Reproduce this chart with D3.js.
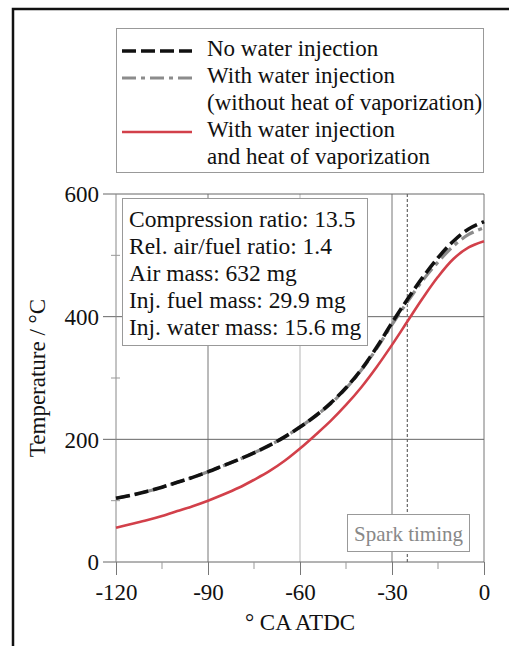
<!DOCTYPE html>
<html>
<head>
<meta charset="utf-8">
<script src="https://cdn.jsdelivr.net/npm/d3@7"></script>
<style>
  body { margin: 0; background: #fff; }
  svg { display: block; font-family: "Liberation Serif", "DejaVu Serif", serif; }
</style>
</head>
<body>
<div id="chart"></div>
<script>
// crank angle (° CA ATDC)
const angles = [-120, -115, -110, -105, -100, -95, -90, -85, -80, -75, -70, -65, -60,
                -55, -50, -45, -40, -35, -30, -25, -20, -15, -10, -5, 0];
// temperature in °C
const noWater = [104, 109, 115, 122, 130, 138, 147, 157, 167, 178, 190, 204, 220,
                 238, 259, 284, 314, 350, 390, 428, 464, 496, 523, 543, 555];
const waterNoVap = [104, 109, 115, 122, 130, 138, 147, 157, 167, 178, 190, 204, 220,
                    238, 258, 283, 313, 348, 387, 424, 459, 489, 515, 534, 545];
const waterVap = [56, 62, 68, 75, 83, 91, 100, 110, 121, 134, 148, 165, 185,
                  207, 230, 256, 285, 318, 354, 392, 430, 465, 494, 513, 523];

const xTicks = [-120, -90, -60, -30, 0];
const xMinor = [-105, -75, -45, -15];
const yTicks = [0, 200, 400, 600];
const yMinor = [100, 300, 500];
const sparkTiming = -25;

const legendLabels = [
    ["No water injection"],
    ["With water injection", "(without heat of vaporization)"],
    ["With water injection", "and heat of vaporization"]
];
const infoLines = [
    "Compression ratio: 13.5",
    "Rel. air/fuel ratio: 1.4",
    "Air mass: 632 mg",
    "Inj. fuel mass: 29.9 mg",
    "Inj. water mass: 15.6 mg"
];

let width = 509, height = 646;

let x = d3.scaleLinear().domain([-120, 0]).range([116, 484]);
let y = d3.scaleLinear().domain([0, 600]).range([562, 194]);

let svg = d3.select("#chart").append("svg")
    .attr("width", width)
    .attr("height", height);

// outer frame
svg.append("rect")
    .attr("x", 13).attr("y", 9)
    .attr("width", 530).attr("height", 670)
    .attr("fill", "none")
    .attr("stroke", "#111")
    .attr("stroke-width", 2.5);

// vertical grid
svg.append("g")
    .selectAll("line")
    .data(xTicks.slice(1))
    .join("line")
    .attr("x1", d => x(d)).attr("x2", d => x(d))
    .attr("y1", y(0)).attr("y2", y(600))
    .attr("stroke", d => d === -60 ? "#b5b5b5" : "#777")
    .attr("stroke-width", 1);

// horizontal grid (extends left as the major tick)
svg.append("g")
    .selectAll("line")
    .data(yTicks)
    .join("line")
    .attr("x1", x(-120) - 13).attr("x2", x(0))
    .attr("y1", d => y(d)).attr("y2", d => y(d))
    .attr("stroke", "#666")
    .attr("stroke-width", 1);

// left axis line
svg.append("line")
    .attr("x1", x(-120)).attr("x2", x(-120))
    .attr("y1", y(600)).attr("y2", y(0))
    .attr("stroke", "#888");

// x axis
let xAxis = svg.append("g")
    .attr("transform", `translate(0,${y(0)})`)
    .call(d3.axisBottom(x).tickValues(xTicks).tickSize(13).tickPadding(9).tickFormat(d => String(d)));
xAxis.select(".domain").remove();
xAxis.selectAll("line").attr("stroke", "#777");
xAxis.selectAll("text")
    .attr("fill", "#111")
    .style("font-size", "23px")
    .style("font-family", "Liberation Serif");

svg.append("g")
    .selectAll("line")
    .data(xMinor)
    .join("line")
    .attr("x1", d => x(d)).attr("x2", d => x(d))
    .attr("y1", y(0)).attr("y2", y(0) + 7)
    .attr("stroke", "#999");

// y axis
let yAxis = svg.append("g")
    .attr("transform", `translate(${x(-120)},0)`)
    .call(d3.axisLeft(y).tickValues(yTicks).tickSize(13).tickPadding(4));
yAxis.select(".domain").remove();
yAxis.selectAll("line").remove();
yAxis.selectAll("text")
    .attr("fill", "#111")
    .attr("dy", "0.34em")
    .style("font-size", "23px")
    .style("font-family", "Liberation Serif");

svg.append("g")
    .selectAll("line")
    .data(yMinor)
    .join("line")
    .attr("x1", x(-120) - 5).attr("x2", x(-120) + 4)
    .attr("y1", d => y(d)).attr("y2", d => y(d))
    .attr("stroke", "#999");

// spark timing marker
svg.append("line")
    .attr("x1", x(sparkTiming)).attr("x2", x(sparkTiming))
    .attr("y1", y(600)).attr("y2", y(0))
    .attr("stroke", "#666")
    .attr("stroke-width", 1.2)
    .attr("stroke-dasharray", "3,2");

// curves
let line = d3.line()
    .x((d, i) => x(angles[i]))
    .y(d => y(d))
    .curve(d3.curveCatmullRom);

let series = [
    { values: waterVap, color: "#d2404a", width: 2.6, dash: null },
    { values: waterNoVap, color: "#8c8c8c", width: 3.2, dash: "14,5,4,5" },
    { values: noWater, color: "#111", width: 3.6, dash: "14,5" }
];

svg.append("g")
    .selectAll("path")
    .data(series)
    .join("path")
    .attr("d", d => line(d.values))
    .attr("fill", "none")
    .attr("stroke", d => d.color)
    .attr("stroke-width", d => d.width)
    .attr("stroke-dasharray", d => d.dash);

// info box
svg.append("rect")
    .attr("x", 122.5).attr("y", 198.5)
    .attr("width", 245).attr("height", 147)
    .attr("fill", "#fff")
    .attr("stroke", "#999");

svg.append("g")
    .selectAll("text")
    .data(infoLines)
    .join("text")
    .attr("x", 129)
    .attr("y", (d, i) => 227 + i * 27)
    .attr("fill", "#111")
    .style("font-size", "23.5px")
    .text(d => d);

// spark timing label
svg.append("rect")
    .attr("x", 347.5).attr("y", 514.5)
    .attr("width", 122).attr("height", 37)
    .attr("fill", "#fff")
    .attr("stroke", "#999");

svg.append("text")
    .attr("x", 408.5).attr("y", 541)
    .attr("text-anchor", "middle")
    .attr("fill", "#888")
    .style("font-size", "21px")
    .text("Spark timing");

// legend
svg.append("rect")
    .attr("x", 116.5).attr("y", 28.5)
    .attr("width", 367).attr("height", 144)
    .attr("fill", "#fff")
    .attr("stroke", "#999");

let legendRows = [0, 1, 3];
let legendSeries = [series[2], series[1], series[0]];
let legend = svg.append("g");

legend.selectAll("line")
    .data(legendSeries)
    .join("line")
    .attr("x1", 122).attr("x2", 192)
    .attr("y1", (d, i) => 51 + legendRows[i] * 27)
    .attr("y2", (d, i) => 51 + legendRows[i] * 27)
    .attr("stroke", d => d.color)
    .attr("stroke-width", d => d.width)
    .attr("stroke-dasharray", d => d.dash);

legend.selectAll("text")
    .data(legendLabels.flatMap((lbl, i) => lbl.map((t, j) => ({ t, row: legendRows[i] + j }))))
    .join("text")
    .attr("x", 207)
    .attr("y", d => 56 + d.row * 27)
    .attr("fill", "#111")
    .style("font-size", "23px")
    .text(d => d.t);

// axis titles
svg.append("text")
    .attr("x", x(-60)).attr("y", 630)
    .attr("text-anchor", "middle")
    .attr("fill", "#111")
    .style("font-size", "23px")
    .text("° CA ATDC");

svg.append("text")
    .attr("transform", `translate(45,${y(300)}) rotate(-90)`)
    .attr("text-anchor", "middle")
    .attr("fill", "#111")
    .style("font-size", "23px")
    .text("Temperature / °C");
</script>
</body>
</html>
